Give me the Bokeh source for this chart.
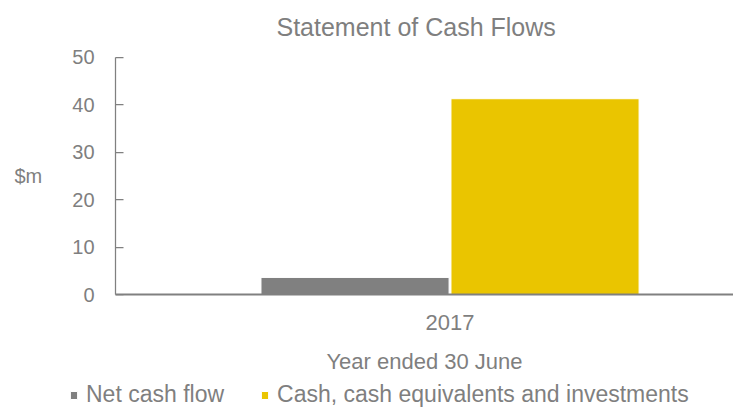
from bokeh.plotting import figure
from bokeh.models import Range1d, FixedTicker, Legend, LegendItem, ColumnDataSource
from bokeh.transform import dodge
from bokeh.embed import file_html
from bokeh.resources import INLINE

# ---- data ----
categories = ["2017"]
net_cash_flow = [3.6]
cash_and_investments = [41.3]
series_names = ["Net cash flow", "Cash, cash equivalents and investments"]
y_ticks = [0, 10, 20, 30, 40, 50]

# ---- style / layout ----
FONT = "Liberation Sans"
TXT = "#7f7f7f"
GRAY = "#808080"
YELLOW = "#EAC500"
Y_MIN, Y_MAX = 0, 50            # value axis extent
X_START, X_END = -2.366, 1.492  # view range (category units)
Y_START, Y_END = -24.47, 52.53  # view range (value units)
Y_AXIS_AT = -1.7605             # where the value axis is drawn

x_idx = list(range(len(categories)))

p = figure(width=733, height=410, output_backend="svg", toolbar_location=None,
           x_range=Range1d(X_START, X_END), y_range=Range1d(Y_START, Y_END),
           min_border_left=0, min_border_right=0, min_border_top=45,
           min_border_bottom=0, outline_line_color=None,
           title="Statement of Cash Flows")
p.background_fill_color = "white"
p.border_fill_color = "white"

p.title.align = "left"
p.title.offset = 276
p.title.text_font = FONT
p.title.text_font_size = "25px"
p.title.text_font_style = "normal"
p.title.text_color = TXT
p.title.standoff = 10

source = ColumnDataSource(dict(x=x_idx, net=net_cash_flow, cash=cash_and_investments))

r1 = p.vbar(x=dodge("x", -0.5, range=p.x_range), top="net", width=0.99, bottom=0,
            source=source, fill_color=GRAY, line_color="white", line_width=1)
r2 = p.vbar(x=dodge("x", 0.5, range=p.x_range), top="cash", width=0.99, bottom=0,
            source=source, fill_color=YELLOW, line_color="white", line_width=1)

p.xgrid.visible = False
p.ygrid.visible = False

# x axis
xa = p.xaxis[0]
xa.fixed_location = 0
xa.bounds = (Y_AXIS_AT, X_END)
xa.ticker = FixedTicker(ticks=x_idx)
xa.major_label_overrides = {i: c for i, c in zip(x_idx, categories)}
xa.major_tick_line_color = None
xa.minor_tick_line_color = None
xa.axis_line_color = GRAY
xa.axis_line_width = 2
xa.major_label_text_font = FONT
xa.major_label_text_font_size = "22px"
xa.major_label_text_color = TXT
xa.major_label_standoff = 14
xa.axis_label = "Year ended 30 June"
xa.axis_label_text_font = FONT
xa.axis_label_text_font_size = "22px"
xa.axis_label_text_font_style = "normal"
xa.axis_label_text_color = TXT
xa.axis_label_standoff = 16

# y axis
ya = p.yaxis[0]
ya.fixed_location = Y_AXIS_AT
ya.bounds = (Y_MIN, Y_MAX)
ya.ticker = FixedTicker(ticks=y_ticks)
ya.minor_tick_line_color = None
ya.axis_line_color = GRAY
ya.axis_line_width = 1.25
ya.major_tick_line_color = GRAY
ya.major_tick_line_width = 1.25
ya.major_tick_in = 8
ya.major_tick_out = 0
ya.major_label_text_font = FONT
ya.major_label_text_font_size = "20px"
ya.major_label_text_color = TXT
ya.major_label_standoff = 21
ya.axis_label = "$m"
ya.axis_label_text_font = FONT
ya.axis_label_text_font_size = "20px"
ya.axis_label_text_font_style = "normal"
ya.axis_label_text_color = TXT
ya.axis_label_standoff = 27
try:
    ya.axis_label_orientation = "horizontal"
except Exception:
    pass

legend = Legend(items=[LegendItem(label=series_names[0], renderers=[r1]),
                       LegendItem(label=series_names[1], renderers=[r2])],
                orientation="horizontal", location=(69, 2),
                padding=0, margin=0, spacing=36, label_standoff=8,
                glyph_width=9, glyph_height=10,
                border_line_color=None, background_fill_alpha=0,
                label_text_font=FONT, label_text_font_size="23px",
                label_text_color=TXT)
p.add_layout(legend)

open("out.html", "w").write(file_html(p, INLINE))
